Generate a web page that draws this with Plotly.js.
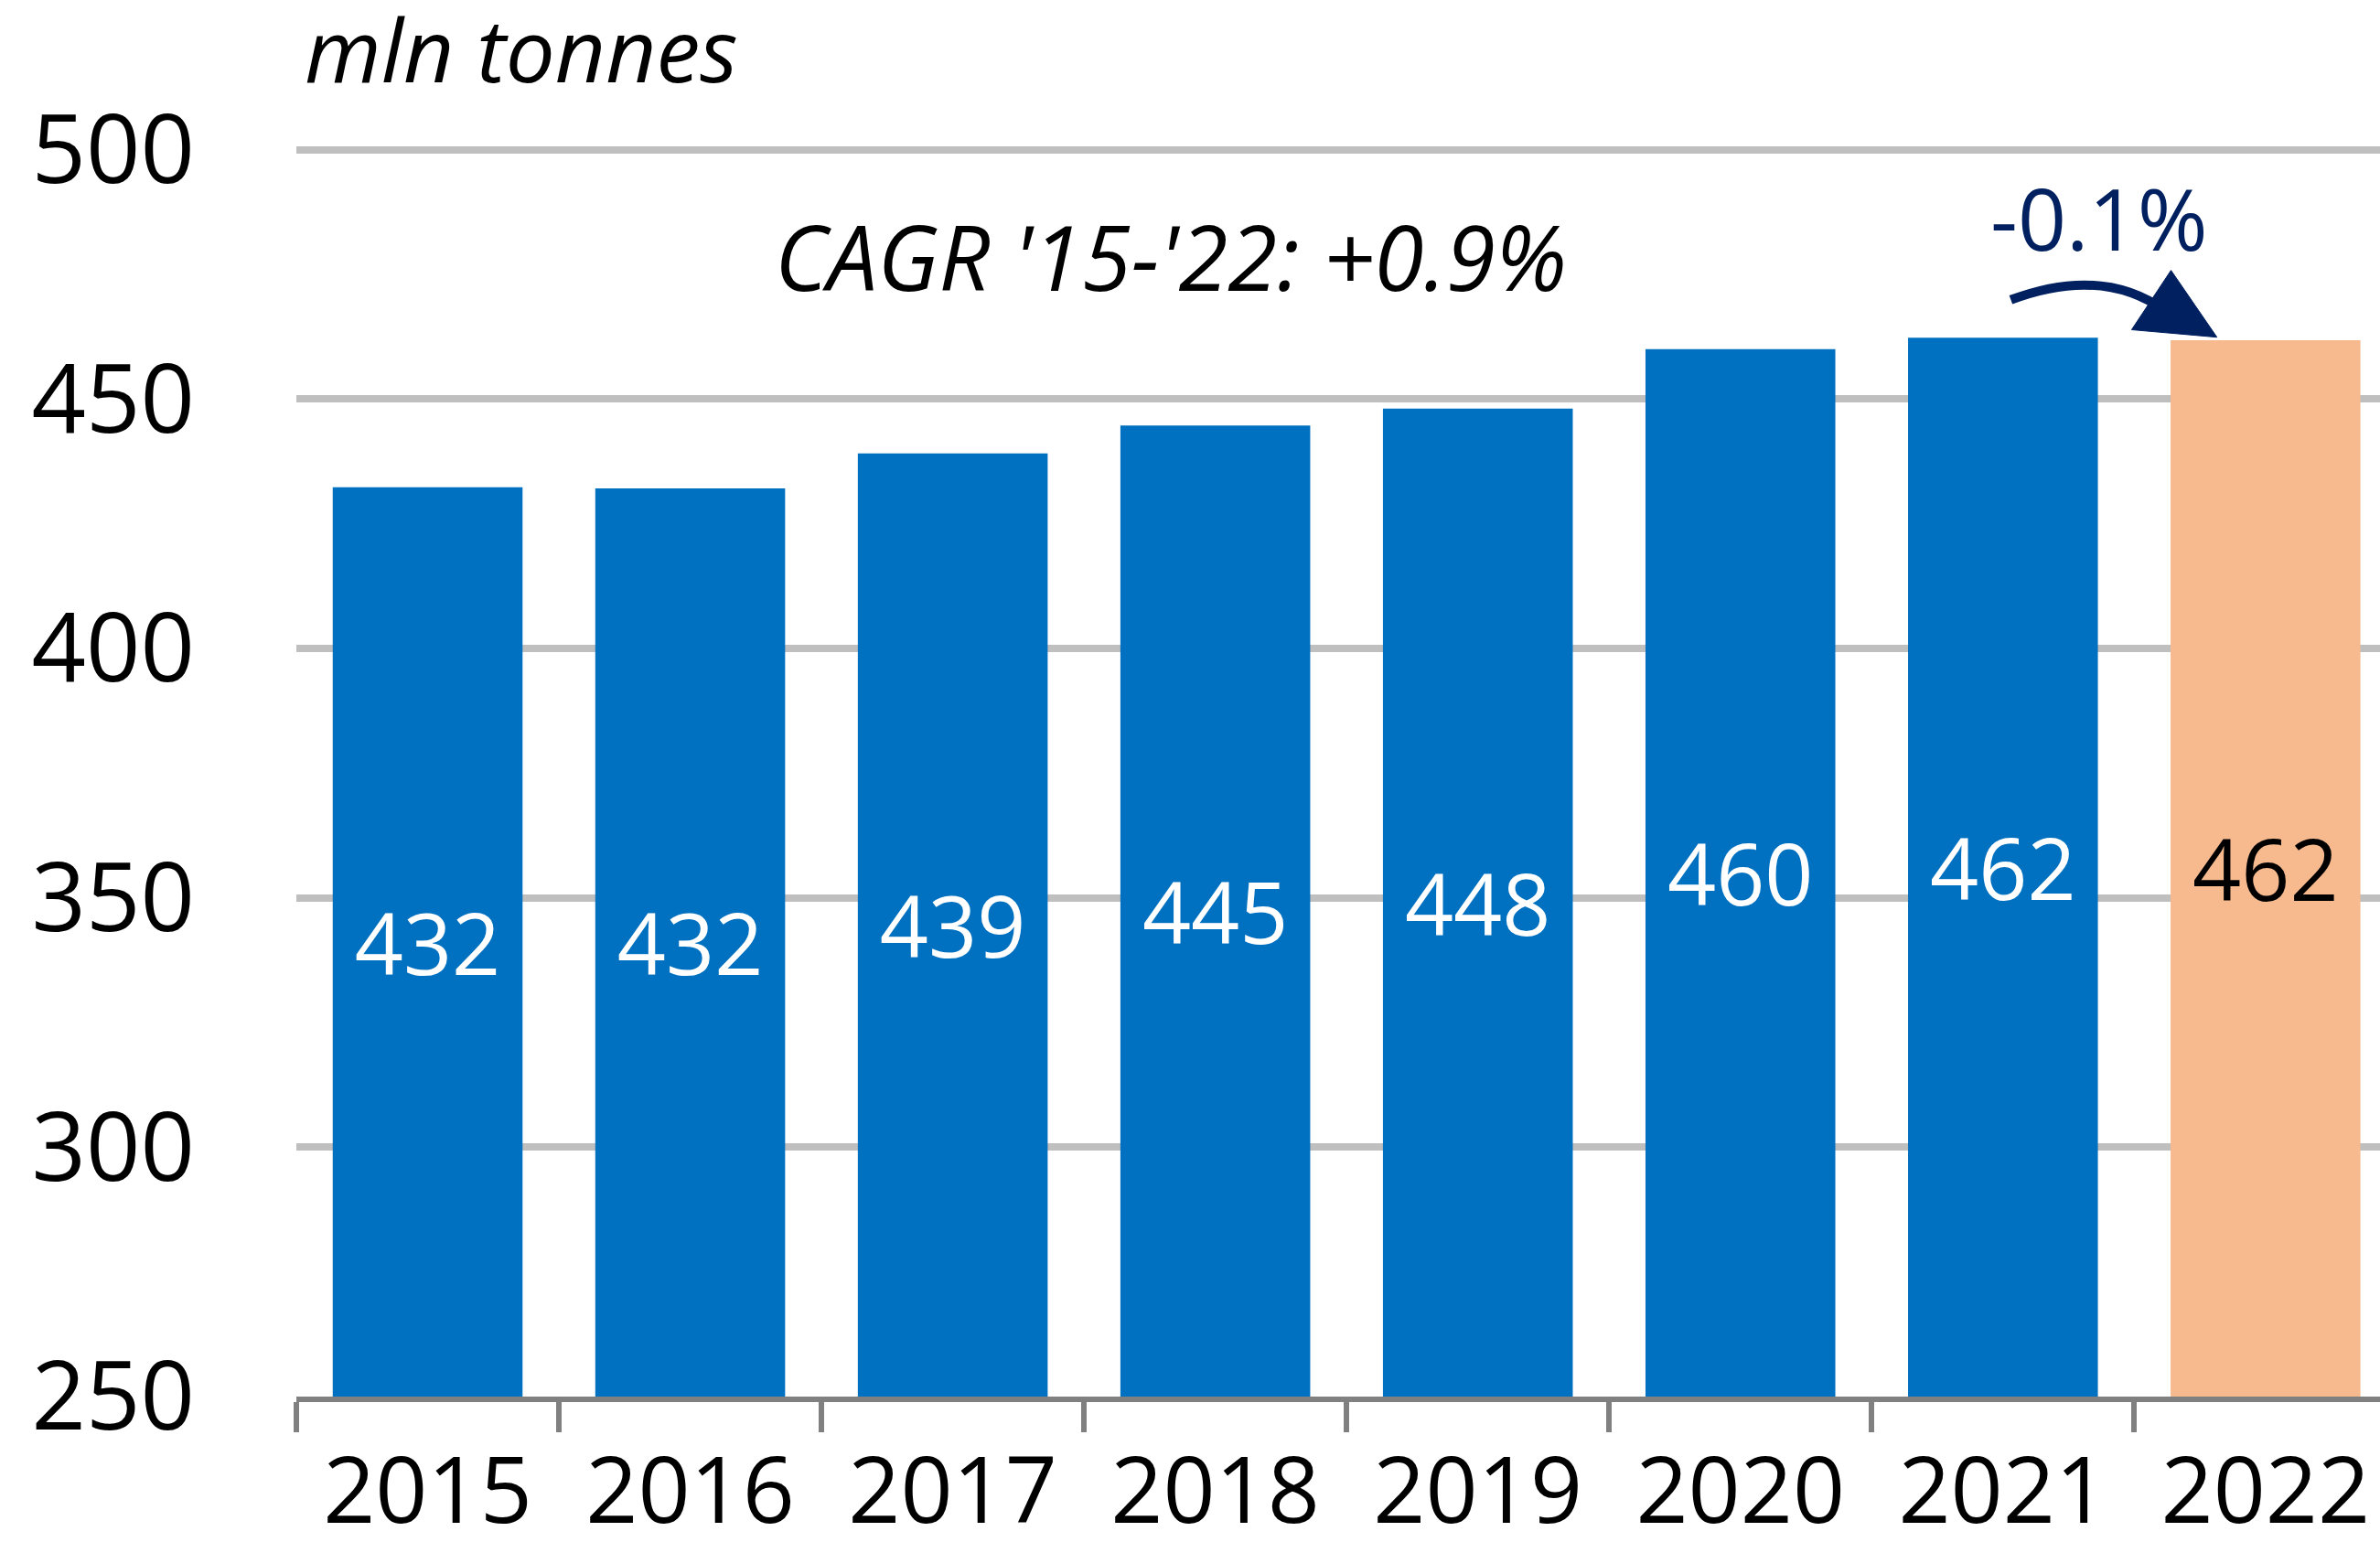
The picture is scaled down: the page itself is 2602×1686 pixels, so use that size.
<!DOCTYPE html>
<html>
<head>
<meta charset="utf-8">
<script src="https://cdn.plot.ly/plotly-3.0.1.min.js"></script>
<style>html,body{margin:0;padding:0;background:#fff;}#chart{width:2602px;height:1686px;}</style>
</head>
<body>
<div id="chart"></div>
<script>
const categories = ['2015','2016','2017','2018','2019','2020','2021','2022'];
const values = [432.3, 432.1, 439.1, 444.7, 448.1, 460.0, 462.3, 461.8];
const labels = ['432','432','439','445','448','460','462','462'];
const barColors = ['#0070C0','#0070C0','#0070C0','#0070C0','#0070C0','#0070C0','#0070C0','#F7BA8F'];
const labelColors = ['#FFFFFF','#FFFFFF','#FFFFFF','#FFFFFF','#FFFFFF','#FFFFFF','#FFFFFF','#000000'];
const yTicks = [250, 300, 350, 400, 450, 500];
const axisFloor = 250;
const unitText = 'mln tonnes';
const cagrText = "CAGR '15-'22: +0.9%";
const changeText = '-0.1%';

const FONT = 'Open Sans, Lato, sans-serif';
const NAVY = '#002060';

const trace = {
  type: 'bar',
  x: categories,
  y: values.map(v => v - axisFloor),
  base: axisFloor,
  marker: {color: barColors, line: {width: 0}},
  text: labels,
  textposition: 'inside',
  insidetextanchor: 'middle',
  textangle: 0,
  constraintext: 'none',
  textfont: {family: FONT, size: 93, color: labelColors},
  hoverinfo: 'skip'
};

const layout = {
  width: 2602,
  height: 1686,
  margin: {l: 324, r: 0, t: 162, b: 159, pad: 0},
  paper_bgcolor: '#ffffff',
  plot_bgcolor: '#ffffff',
  showlegend: false,
  bargap: 0.277,
  font: {family: FONT, color: '#000000'},
  xaxis: {
    type: 'category',
    range: [-0.5, 7.436],
    tickson: 'boundaries',
    ticks: 'outside',
    ticklen: 33,
    tickwidth: 6,
    tickcolor: '#808080',
    showline: true,
    linecolor: '#808080',
    linewidth: 6,
    showgrid: false,
    zeroline: false,
    tickfont: {family: FONT, size: 100, color: '#000000'},
    ticklabelstandoff: 12,
    fixedrange: true
  },
  yaxis: {
    range: [250, 500.3],
    tickvals: yTicks,
    ticktext: yTicks.map(String),
    showgrid: true,
    gridcolor: '#BFBFBF',
    gridwidth: 8,
    zeroline: false,
    showline: false,
    ticks: '',
    tickfont: {family: FONT, size: 104, color: '#000000'},
    ticklabelstandoff: 110,
    fixedrange: true
  },
  annotations: [
    {text: unitText, xref: 'paper', yref: 'paper', x: 0.003, y: 1.08, xanchor: 'left', yanchor: 'middle',
     showarrow: false, font: {family: FONT, size: 96, color: '#000000', style: 'italic'}},
    {text: cagrText, xref: 'x', yref: 'y', x: 2.83, y: 478.7, xanchor: 'center', yanchor: 'middle',
     showarrow: false, font: {family: FONT, size: 98, color: '#000000', style: 'italic'}},
    {text: changeText, xref: 'x', yref: 'y', x: 6.367, y: 486.3, xanchor: 'center', yanchor: 'middle',
     showarrow: false, font: {family: FONT, size: 93, color: NAVY}}
  ],
  shapes: [
    {type: 'path', xref: 'x', yref: 'y', path: 'M 6.03,469.9 Q 6.38,476.8 6.62,467.6',
     line: {color: NAVY, width: 10}, fillcolor: 'rgba(0,0,0,0)', layer: 'above'},
    {type: 'path', xref: 'x', yref: 'y', path: 'M 6.64,475.8 L 6.815,462.4 L 6.49,463.9 Z',
     line: {color: NAVY, width: 1}, fillcolor: NAVY, layer: 'above'}
  ]
};

Plotly.newPlot('chart', [trace], layout, {staticPlot: true, displayModeBar: false});
</script>
</body>
</html>
